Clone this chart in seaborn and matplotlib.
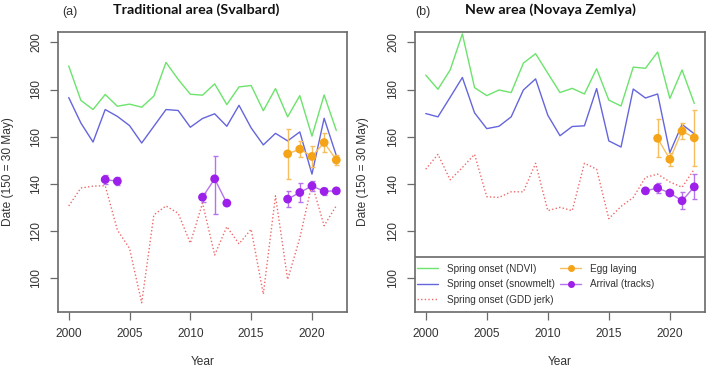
import numpy as np
import pandas as pd
import matplotlib
matplotlib.use("Agg")
import matplotlib.pyplot as plt
import seaborn as sns
from matplotlib.lines import Line2D

# ---------------- data ----------------
years = list(range(2000, 2023))

sv_ndvi = [190.0, 175.4, 171.5, 177.9, 172.9, 173.8, 172.5, 177.2, 191.5, 184.3, 178.0, 177.6,
           182.4, 173.6, 181.1, 181.7, 171.0, 180.4, 168.4, 177.4, 160.2, 177.7, 162.6]
sv_snow = [176.6, 165.8, 157.7, 171.5, 168.6, 164.7, 157.3, 164.4, 171.5, 171.1, 164.0, 167.7,
           169.7, 164.4, 173.3, 163.7, 156.5, 161.4, 158.2, 162.0, 144.1, 167.8, 152.0]
sv_gdd = [130.6, 138.2, 139.0, 139.2, 120.4, 112.6, 89.5, 126.8, 130.6, 127.5, 114.8, 131.8,
          109.8, 121.8, 114.5, 120.7, 93.2, 134.9, 99.4, 117.0, 140.0, 122.2, 130.7]

sv_egg_years = [2018, 2019, 2020, 2021, 2022]
sv_egg = [152.7, 154.7, 151.6, 157.5, 150.1]
sv_egg_lo = [10.5, 3.5, 4.5, 4.0, 2.0]
sv_egg_hi = [10.5, 3.5, 4.5, 4.0, 2.0]

sv_arr_years = [2003, 2004, 2011, 2012, 2013, 2018, 2019, 2020, 2021, 2022]
sv_arr = [141.8, 141.1, 134.3, 142.1, 131.8, 133.5, 136.3, 139.1, 136.8, 137.0]
sv_arr_lo = [1.8, 1.8, 2.0, 15.0, 0.0, 3.5, 4.0, 2.0, 1.5, 1.0]
sv_arr_hi = [1.8, 1.8, 2.0, 9.7, 0.0, 3.5, 4.0, 2.0, 1.5, 1.0]
sv_arr_seg = [1, 1, 2, 2, 2, 3, 3, 3, 3, 3]

nz_ndvi = [186.1, 180.1, 188.3, 203.6, 180.8, 177.4, 179.8, 178.7, 191.2, 195.2, 186.9, 178.7,
           180.5, 178.1, 188.8, 175.5, 173.0, 189.5, 189.0, 195.9, 176.2, 188.3, 174.1]
nz_snow = [169.8, 168.4, 176.7, 185.1, 170.1, 163.4, 164.4, 168.4, 179.8, 184.5, 169.1, 160.4,
           164.3, 164.6, 180.4, 158.2, 155.6, 180.2, 176.4, 178.1, 153.2, 165.2, 161.2]
nz_gdd = [146.2, 152.5, 141.7, 146.9, 152.5, 134.5, 134.2, 136.6, 136.6, 148.7, 128.6, 130.0,
          128.6, 148.7, 146.2, 125.2, 130.4, 134.2, 142.7, 144.1, 140.8, 138.5, 146.2]

nz_egg_years = [2019, 2020, 2021, 2022]
nz_egg = [159.3, 150.4, 162.4, 159.5]
nz_egg_lo = [8.0, 2.7, 3.3, 11.8]
nz_egg_hi = [8.0, 2.7, 3.3, 11.8]

nz_arr_years = [2018, 2019, 2020, 2021, 2022]
nz_arr = [137.0, 138.2, 136.1, 132.8, 138.7]
nz_arr_lo = [1.0, 2.0, 1.0, 3.7, 5.3]
nz_arr_hi = [1.0, 2.0, 1.0, 3.7, 5.3]
nz_arr_seg = [1, 1, 1, 1, 1]

x_ticks = [2000, 2005, 2010, 2015, 2020]
y_ticks = [100, 120, 140, 160, 180, 200]

legend_labels = ["Spring onset (NDVI)", "Spring onset (snowmelt)", "Spring onset (GDD jerk)",
                 "Egg laying", "Arrival (tracks)"]

# ---------------- style ----------------
GREEN = "#6CE36C"
BLUE = "#6565DC"
RED = "#EE6A6A"
ORANGE = "#F5A418"
ORANGE_L = "#F6BE5E"
PURPLE = "#9C1FEA"
PURPLE_L = "#B673EE"
FRAME = "#6a6a6a"
TXT = "#333333"
DOTS = (0, (1, 1.6))

sns.set_theme(style="white")
plt.rcParams["font.family"] = ["Liberation Sans", "DejaVu Sans"]

W, H = 709, 371
fig = plt.figure(figsize=(W / 100, H / 100), dpi=100)
ax1 = fig.add_axes([58 / W, 59 / H, 289 / W, 280 / H])
ax2 = fig.add_axes([415 / W, 59 / H, 290 / W, 280 / H])


def panel(ax, ndvi, snow, gdd, ey, ev, elo, ehi, ay, av, alo, ahi, aseg):
    df = pd.DataFrame({"year": years, "ndvi": ndvi, "snow": snow, "gdd": gdd})
    sns.lineplot(data=df, x="year", y="ndvi", color=GREEN, lw=1.0, ax=ax)
    sns.lineplot(data=df, x="year", y="snow", color=BLUE, lw=1.0, ax=ax)
    sns.lineplot(data=df, x="year", y="gdd", color=RED, lw=1.0, linestyle=DOTS, ax=ax)

    de = pd.DataFrame({"year": ey, "v": ev})
    sns.lineplot(data=de, x="year", y="v", color=ORANGE_L, lw=1.0, ax=ax)
    ax.errorbar(ey, ev, yerr=[elo, ehi], fmt="none", ecolor=ORANGE_L, elinewidth=1.0,
                capsize=1.8, capthick=1.0, zorder=3)
    sns.scatterplot(data=de, x="year", y="v", color=ORANGE, s=40, edgecolor="none",
                    ax=ax, zorder=4)

    da = pd.DataFrame({"year": ay, "v": av, "seg": aseg})
    sns.lineplot(data=da, x="year", y="v", units="seg", estimator=None, color=PURPLE_L,
                 lw=1.0, ax=ax)
    m = [i for i in range(len(ay)) if alo[i] > 0 or ahi[i] > 0]
    ax.errorbar([ay[i] for i in m], [av[i] for i in m],
                yerr=[[alo[i] for i in m], [ahi[i] for i in m]], fmt="none",
                ecolor=PURPLE_L, elinewidth=1.0, capsize=1.8, capthick=1.0, zorder=3)
    sns.scatterplot(data=da, x="year", y="v", color=PURPLE, s=40, edgecolor="none",
                    ax=ax, zorder=4)

    ax.set_xlim(1999.12, 2022.88)
    ax.set_ylim(85.6, 204.4)
    ax.set_xticks(x_ticks)
    ax.set_xticklabels([str(t) for t in x_ticks])
    ax.set_yticks(y_ticks)
    ax.set_yticklabels([str(t) for t in y_ticks], rotation=90, va="center")
    ax.tick_params(axis="both", direction="out", length=5.5, width=0.9, color=FRAME,
                   labelsize=8.6, labelcolor=TXT, bottom=True, left=True)
    ax.tick_params(axis="x", pad=6)
    ax.tick_params(axis="y", pad=6)
    for s in ax.spines.values():
        s.set_color(FRAME)
        s.set_linewidth(1.2)
    ax.grid(False)
    ax.set_xlabel("Year", fontsize=8.6, color=TXT)
    ax.set_ylabel("Date (150 = 30 May)", fontsize=8.6, color=TXT)
    ax.xaxis.set_label_coords(0.5, -0.158)


panel(ax1, sv_ndvi, sv_snow, sv_gdd, sv_egg_years, sv_egg, sv_egg_lo, sv_egg_hi,
      sv_arr_years, sv_arr, sv_arr_lo, sv_arr_hi, sv_arr_seg)
panel(ax2, nz_ndvi, nz_snow, nz_gdd, nz_egg_years, nz_egg, nz_egg_lo, nz_egg_hi,
      nz_arr_years, nz_arr, nz_arr_lo, nz_arr_hi, nz_arr_seg)
ax1.yaxis.set_label_coords(-0.152, 0.5)
ax2.yaxis.set_label_coords(-0.157, 0.5)

# legend box (top border) in right panel
ax2.axhline(108.9, color=FRAME, lw=1.2, zorder=5)
h = [Line2D([], [], color=GREEN, lw=1.0),
     Line2D([], [], color=BLUE, lw=1.0),
     Line2D([], [], color=RED, lw=1.0, linestyle=DOTS),
     Line2D([], [], color=ORANGE_L, lw=1.0, marker="o", markersize=4,
            markerfacecolor=ORANGE, markeredgecolor=ORANGE),
     Line2D([], [], color=PURPLE_L, lw=1.0, marker="o", markersize=4,
            markerfacecolor=PURPLE, markeredgecolor=PURPLE)]
kw = dict(frameon=False, fontsize=7.2, handlelength=2.1, handletextpad=0.9,
          labelspacing=0.55, borderpad=0, borderaxespad=0, loc="upper left")
leg1 = ax2.legend(h[:3], legend_labels[:3], bbox_to_anchor=(0.006, 0.172), **kw)
for t in leg1.get_texts():
    t.set_color(TXT)
ax2.add_artist(leg1)
leg2 = ax2.legend(h[3:], legend_labels[3:], bbox_to_anchor=(0.5, 0.172), **kw)
for t in leg2.get_texts():
    t.set_color(TXT)

# titles
fig.text(70 / W, 1 - 12 / H, "(a)", fontsize=9, ha="center", va="center", color=TXT)
fig.text(196 / W, 1 - 10 / H, "Traditional area (Svalbard)", fontsize=10.3,
         fontweight="bold", ha="center", va="center", color="#111111",
         family=["Lato", "DejaVu Sans"])
fig.text(423 / W, 1 - 12 / H, "(b)", fontsize=9, ha="center", va="center", color=TXT)
fig.text(550 / W, 1 - 10 / H, "New area (Novaya Zemlya)", fontsize=10.3,
         fontweight="bold", ha="center", va="center", color="#111111",
         family=["Lato", "DejaVu Sans"])

fig.savefig("out.png", dpi=100, facecolor="white")
